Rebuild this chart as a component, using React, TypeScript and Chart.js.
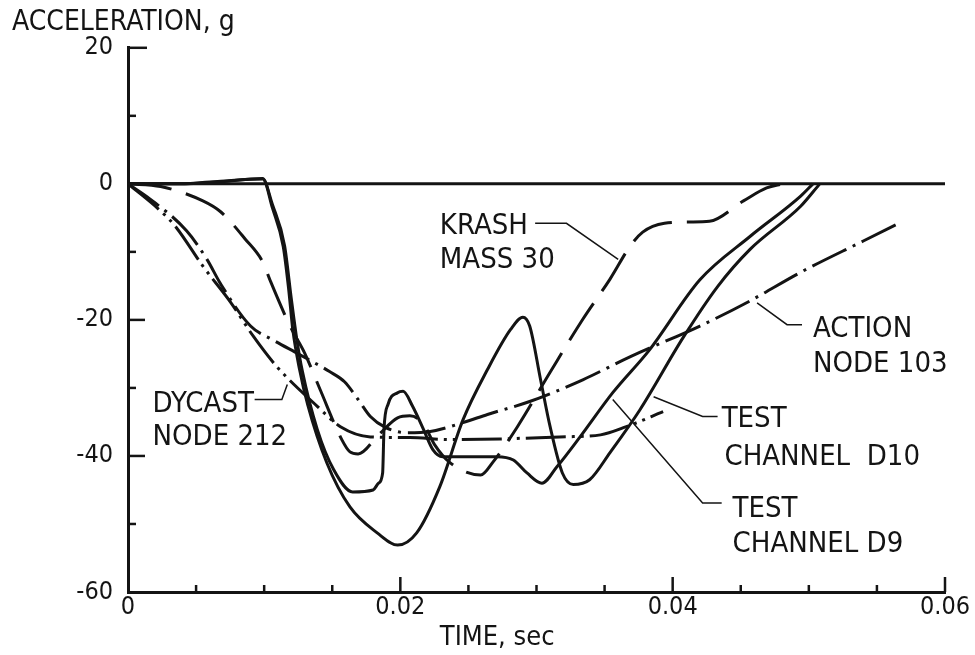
import React, { useEffect, useRef } from 'react';
import { Chart, registerables } from 'chart.js';

Chart.register(...registerables);

const FONT = "'Liberation Sans Narrow', 'DejaVu Sans Condensed', 'Arial Narrow', sans-serif";
const INK = '#141414';

// ---- data (time in s, acceleration in g) ----
const zeroTime = [0, 0.06];
const zeroAccel = [0, 0];

const d10Time = [0, 0.0038, 0.0068, 0.0099, 0.0106, 0.0114, 0.0118, 0.0121, 0.0126, 0.0132, 0.0146, 0.0163, 0.0183, 0.0198, 0.0212, 0.0229, 0.0246, 0.0264, 0.0281, 0.029, 0.0295, 0.0303, 0.031, 0.0319, 0.0327, 0.0339, 0.0354, 0.0376, 0.0408, 0.0433, 0.0457, 0.0494, 0.0508];
const d10Accel = [0, 0, 0.3, 0.8, -3.5, -9.2, -15.5, -21.4, -27.3, -32.5, -41.0, -47.5, -51.3, -53.1, -51.3, -44.5, -34.7, -27.3, -21.4, -19.6, -20.9, -28.8, -35.7, -42.5, -44.2, -43.5, -39.5, -33.2, -22.5, -15.1, -9.6, -3.3, 0];

const d9Time = [0, 0.0038, 0.0068, 0.0099, 0.0106, 0.0115, 0.012, 0.0124, 0.0128, 0.0139, 0.0151, 0.0165, 0.018, 0.0184, 0.0187, 0.0188, 0.0191, 0.0198, 0.0202, 0.0209, 0.0217, 0.0224, 0.0231, 0.0246, 0.0271, 0.0283, 0.0293, 0.0304, 0.0315, 0.0332, 0.0356, 0.0383, 0.042, 0.0457, 0.0494, 0.0503];
const d9Accel = [0, 0, 0.4, 0.7, -3.0, -9.1, -17.0, -22.9, -27.5, -36.1, -42.0, -45.3, -45.0, -44.0, -42.5, -36.1, -32.4, -30.7, -30.5, -32.7, -36.1, -39.1, -40.1, -40.1, -40.1, -40.6, -42.5, -44.0, -41.6, -37.2, -30.7, -24.4, -14.1, -7.7, -1.8, 0];

const krashTime = [0, 0.0024, 0.0055, 0.0068, 0.0086, 0.0099, 0.0104, 0.0119, 0.013, 0.0141, 0.0157, 0.0163, 0.0169, 0.0184, 0.0198, 0.0207, 0.0217, 0.0225, 0.0236, 0.0259, 0.0268, 0.0286, 0.031, 0.0334, 0.0354, 0.0369, 0.0378, 0.0394, 0.0413, 0.0427, 0.0452, 0.0469, 0.0481];
const krashAccel = [0, -0.4, -2.5, -4.1, -8.1, -11.5, -14.0, -20.9, -25.0, -30.2, -37.6, -39.4, -39.7, -36.9, -34.4, -34.1, -35.3, -38.3, -40.9, -42.8, -40.9, -35.7, -27.7, -19.9, -14.0, -9.1, -7.1, -5.8, -5.6, -5.5, -2.5, -0.6, 0];

const actionTime = [0, 0.0016, 0.0043, 0.0058, 0.0068, 0.009, 0.0106, 0.0126, 0.0148, 0.0159, 0.0169, 0.0178, 0.0189, 0.0205, 0.0222, 0.0246, 0.0264, 0.0295, 0.0334, 0.0369, 0.042, 0.0455, 0.0494, 0.054, 0.0568];
const actionAccel = [0, -2.2, -6.9, -11.1, -14.7, -20.9, -22.9, -25.1, -27.6, -29.1, -31.7, -34.2, -35.8, -36.6, -36.4, -35.1, -33.9, -32.0, -28.8, -25.4, -20.9, -17.4, -13.0, -8.4, -5.6];

const dycastTime = [0, 0.0024, 0.0035, 0.0055, 0.0075, 0.0092, 0.0109, 0.0139, 0.0156, 0.0178, 0.0207, 0.0236, 0.0273, 0.0317, 0.0347, 0.0366, 0.0393];
const dycastAccel = [0, -4.0, -6.3, -12.1, -17.3, -22.4, -26.8, -32.7, -35.7, -37.2, -37.3, -37.6, -37.5, -37.2, -36.9, -35.7, -33.5];

// ---- axis ticks ----
const xMajorTicks = [0.02, 0.04, 0.06];
const xMinorTicks = [0.005, 0.01, 0.015, 0.025, 0.03, 0.035, 0.045, 0.05, 0.055];
const yMajorTicks = [20, 0, -20, -40];
const yMinorTicks = [10, -10, -30, -50];

// ---- callouts (anchor positions in data units) ----
const callouts = [
  { lines: ['KRASH', 'MASS 30'], at: [[0.0229, -7.4], [0.0229, -12.3]], leader: [[0.0299, -5.8], [0.0322, -5.8], [0.036, -11.1]] },
  { lines: ['ACTION', 'NODE 103'], at: [[0.0503, -22.5], [0.0503, -27.6]], leader: [[0.0462, -17.5], [0.0484, -20.7], [0.0495, -20.7]] },
  { lines: ['TEST', 'CHANNEL  D10'], at: [[0.0436, -35.7], [0.0438, -41.3]], leader: [[0.0386, -31.3], [0.0422, -34.2], [0.0433, -34.2]] },
  { lines: ['TEST', 'CHANNEL D9'], at: [[0.0444, -49.0], [0.0444, -54.1]], leader: [[0.0356, -31.7], [0.0422, -46.9], [0.0436, -46.9]] },
  { lines: ['DYCAST', 'NODE 212'], at: [[0.0018, -33.5], [0.0018, -38.4]], leader: [[0.0093, -31.7], [0.0113, -31.7], [0.0117, -29.5]] },
];
const xTitleAt = 0.0229;

function pts(xs: number[], ys: number[]) {
  return xs.map((x, i) => ({ x, y: ys[i] }));
}

const decor = {
  id: 'decor',
  afterDatasetsDraw(chart: any) {
    const { ctx, chartArea: ca, scales } = chart;
    const xs = scales.x;
    const ys = scales.y;
    ctx.save();
    ctx.strokeStyle = INK;
    ctx.lineCap = 'butt';
    const seg = (x1: number, y1: number, x2: number, y2: number) => {
      ctx.beginPath();
      ctx.moveTo(x1, y1);
      ctx.lineTo(x2, y2);
      ctx.stroke();
    };
    ctx.lineWidth = 2.5;
    yMajorTicks.forEach((v) => { const p = ys.getPixelForValue(v); seg(ca.left, p, ca.left + (v === 20 ? 19 : 17), p); });
    yMinorTicks.forEach((v) => { const p = ys.getPixelForValue(v); seg(ca.left, p, ca.left + 8, p); });
    xMajorTicks.forEach((v) => { const p = xs.getPixelForValue(v); seg(p, ca.bottom, p, ca.bottom - 15); });
    xMinorTicks.forEach((v) => { const p = xs.getPixelForValue(v); seg(p, ca.bottom, p, ca.bottom - 7); });

    ctx.lineWidth = 1.5;
    callouts.forEach((c) => {
      ctx.beginPath();
      c.leader.forEach(([x, y], i) => {
        const px = xs.getPixelForValue(x);
        const py = ys.getPixelForValue(y);
        if (i === 0) ctx.moveTo(px, py); else ctx.lineTo(px, py);
      });
      ctx.stroke();
    });
    ctx.fillStyle = INK;
    ctx.font = `29px ${FONT}`;
    ctx.textAlign = 'left';
    ctx.textBaseline = 'alphabetic';
    callouts.forEach((c) => {
      c.lines.forEach((t, i) => {
        ctx.fillText(t, xs.getPixelForValue(c.at[i][0]), ys.getPixelForValue(c.at[i][1]));
      });
    });
    ctx.font = `27px ${FONT}`;
    ctx.fillText('TIME, sec', xs.getPixelForValue(xTitleAt), ca.bottom + 53);
    ctx.restore();
  },
};

export default function App() {
  const ref = useRef<HTMLCanvasElement>(null);
  useEffect(() => {
    const canvas = ref.current!;
    const line = (label: string, xs: number[], ys: number[], dash: number[], width = 3) => ({
      label,
      data: pts(xs, ys),
      borderColor: INK,
      borderWidth: width,
      borderDash: dash,
      borderCapStyle: 'butt',
      pointRadius: 0,
      fill: false,
      cubicInterpolationMode: 'monotone',
    });
    const tickFont = { family: FONT, size: 25, weight: 'normal' as const };
    const chart = new Chart(canvas, {
      type: 'line',
      data: {
        datasets: [
          line('zero', zeroTime, zeroAccel, [], 3),
          line('TEST CHANNEL D10', d10Time, d10Accel, []),
          line('TEST CHANNEL D9', d9Time, d9Accel, []),
          line('KRASH MASS 30', krashTime, krashAccel, [44, 15]),
          line('ACTION NODE 103', actionTime, actionAccel, [38, 7, 3, 7]),
          line('DYCAST NODE 212', dycastTime, dycastAccel, [40, 6, 3, 6, 3, 6]),
        ] as any,
      },
      options: {
        responsive: false,
        animation: false,
        devicePixelRatio: 1,
        layout: { padding: { left: 12, right: 30, top: 0, bottom: 0 } },
        plugins: {
          legend: { display: false },
          tooltip: { enabled: false },
          title: {
            display: true,
            text: 'ACCELERATION, g',
            align: 'start',
            color: INK,
            font: { family: FONT, size: 28, weight: 'normal', lineHeight: 1.1 },
            padding: { top: 7, bottom: 10 },
          },
        },
        scales: {
          x: {
            type: 'linear',
            min: 0,
            max: 0.06,
            grid: { display: false, drawTicks: false },
            border: { display: true, width: 3, color: INK },
            ticks: {
              stepSize: 0.02,
              padding: 0,
              color: INK,
              maxRotation: 0,
              font: tickFont,
              callback: (v: any) => (Number(v) === 0 ? '0' : Number(v).toFixed(2)),
            },
            afterFit: (s: any) => { s.height = 63; },
          },
          y: {
            type: 'linear',
            min: -60,
            max: 20,
            grid: { display: false, drawTicks: false },
            border: { display: true, width: 3, color: INK },
            ticks: { stepSize: 20, padding: 15, color: INK, font: tickFont },
            afterFit: (s: any) => { s.width = 116; },
          },
        },
      } as any,
      plugins: [decor],
    });
    return () => chart.destroy();
  }, []);
  return (
    <div style={{ position: 'fixed', left: 0, top: 0, width: 975, height: 655, background: '#fff' }}>
      <canvas ref={ref} width={975} height={655} style={{ display: 'block', width: 975, height: 655 }} />
    </div>
  );
}
